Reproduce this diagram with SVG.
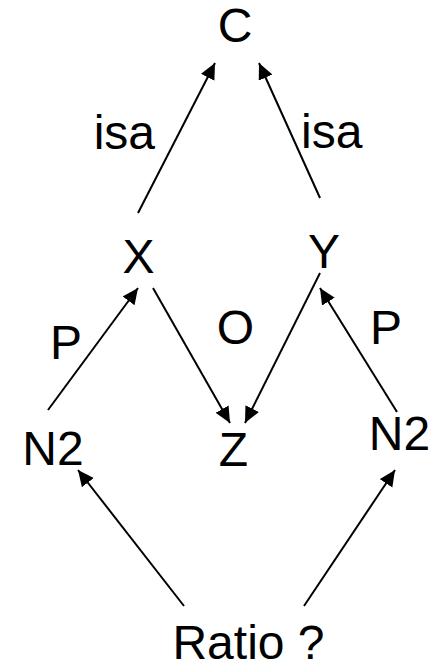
<svg xmlns="http://www.w3.org/2000/svg" width="432" height="666" viewBox="0 0 432 666">
<style>
text{font-family:"Liberation Sans",Arial,sans-serif;font-size:48px;fill:#000}
.c line{stroke:#000;stroke-width:2;marker-end:url(#ah)}
</style>
<defs>
<marker id="ah" markerUnits="userSpaceOnUse" markerWidth="18" markerHeight="16" refX="16" refY="7.5" orient="auto">
<path d="M0,0 L16,7.5 L0,15 z" fill="#000"/>
</marker>
</defs>
<rect width="432" height="666" fill="#fff"/>
<g class="c" id="connectors">
<line x1="138" y1="213" x2="215" y2="63"/>
<line x1="320" y1="198" x2="259" y2="63"/>
<line x1="48" y1="410" x2="138" y2="288"/>
<line x1="153" y1="288" x2="230" y2="423"/>
<line x1="320" y1="273" x2="245" y2="423"/>
<line x1="397" y1="412" x2="320" y2="288"/>
<line x1="184" y1="606" x2="78" y2="470"/>
<line x1="304" y1="606" x2="395" y2="470"/>
</g>
<g id="C"><text x="235" y="42" text-anchor="middle">C</text></g>
<g id="X"><text x="138.5" y="273" text-anchor="middle">X</text></g>
<g id="Y"><text x="324" y="268" text-anchor="middle">Y</text></g>
<g id="Z"><text x="233.5" y="466" text-anchor="middle">Z</text></g>
<g id="N2L"><text x="53" y="465" text-anchor="middle">N2</text></g>
<g id="N2R"><text x="399.5" y="450" text-anchor="middle">N2</text></g>
<g id="Ratio"><text x="248.5" y="659" text-anchor="middle">Ratio ?</text></g>
<g id="labels">
<text x="155" y="149" text-anchor="end">isa</text>
<text x="301" y="148">isa</text>
<text x="235.5" y="344" text-anchor="middle">O</text>
<text x="50" y="359">P</text>
<text x="370" y="344">P</text>
</g>
</svg>
